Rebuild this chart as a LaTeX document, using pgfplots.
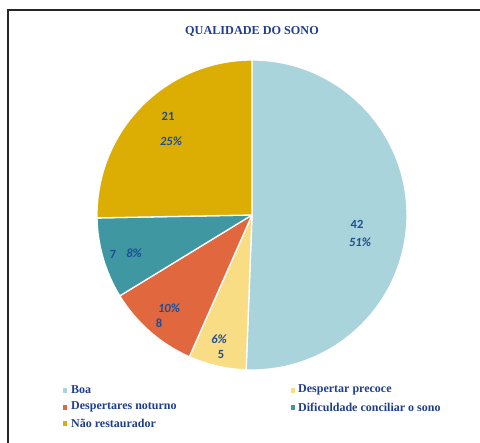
\documentclass[border=0pt]{standalone}
\usepackage{pgfplots}
\pgfplotsset{compat=1.18}
\usepackage{pgfplotstable}
\usepackage{fontspec}
\setmainfont{Liberation Serif}
\newfontfamily\calib{Carlito}
\definecolor{cBoa}{HTML}{A9D4DB}
\definecolor{cPre}{HTML}{F8DD84}
\definecolor{cNot}{HTML}{E1673F}
\definecolor{cDif}{HTML}{3F97A2}
\definecolor{cNao}{HTML}{DCAE03}
\definecolor{tblue}{HTML}{1F3E8C}
\definecolor{lblue}{HTML}{1F4D95}

\pgfplotstableread{
cat value col
Boa 42 cBoa
Precoce 5 cPre
Noturno 8 cNot
Dificuldade 7 cDif
NaoRest 21 cNao
}\sono

\begin{document}
\begin{tikzpicture}[x=1pt,y=1pt]
\useasboundingbox (0,0) rectangle (480,443);
\fill[white] (0,0) rectangle (480,443);
\begin{axis}[at={(0,0)},anchor=south west, scale only axis, width=480pt, height=443pt,
  xmin=0,xmax=480,ymin=-443,ymax=0, hide axis, clip=false]
\def\cum{0}
\pgfplotsforeachungrouped \i in {0,...,4}{%
  \pgfplotstablegetelem{\i}{value}\of\sono \let\sval\pgfplotsretval
  \pgfplotstablegetelem{\i}{col}\of\sono \let\scol\pgfplotsretval
  \pgfmathsetmacro\sa{90-\cum/83*360}%
  \pgfmathsetmacro\cum{\cum+\sval}%
  \pgfmathsetmacro\eang{90-\cum/83*360}%
  \edef\temp{\noexpand\filldraw[fill=\scol, draw=white, line width=1.3pt, line join=round] (axis cs:252,-215) -- ++(\sa:155pt) arc[start angle=\sa, end angle=\eang, radius=155pt] -- cycle;}%
  \temp
}
% title
\node[font=\bfseries\fontsize{12.2}{14}\selectfont, text=tblue] at (axis cs:252,-31) {QUALIDADE DO SONO};
% data labels
\begin{scope}[every node/.style={font=\calib\bfseries\fontsize{12.5}{14}\selectfont, text=lblue, inner sep=0pt}]
\node at (axis cs:357,-224) {42};
\node at (axis cs:360,-242) {\itshape 51\%};
\node at (axis cs:168,-116) {21};
\node at (axis cs:171,-141) {\itshape 25\%};
\node at (axis cs:113,-254) {7};
\node at (axis cs:134,-253) {\itshape 8\%};
\node at (axis cs:169,-308) {\itshape 10\%};
\node at (axis cs:159,-323) {8};
\node at (axis cs:219,-339) {\itshape 6\%};
\node at (axis cs:221,-354) {5};
\end{scope}
% legend
\begin{scope}[every node/.style={font=\bfseries\fontsize{12}{14}\selectfont, text=tblue, anchor=west, inner sep=0pt}]
\fill[cBoa] (axis cs:63,-388) rectangle (axis cs:67,-393);
\node at (axis cs:71,-390) {Boa};
\fill[cPre] (axis cs:291,-388) rectangle (axis cs:295,-393);
\node at (axis cs:298,-390) {Despertar precoce};
\fill[cNot] (axis cs:63,-405) rectangle (axis cs:67,-410);
\node at (axis cs:71,-407) {Despertares noturno};
\fill[cDif] (axis cs:291,-405) rectangle (axis cs:295,-410);
\node at (axis cs:298,-407) {Dificuldade conciliar o sono};
\fill[cNao] (axis cs:63,-421) rectangle (axis cs:67,-426);
\node at (axis cs:71,-423) {Não restaurador};
\end{scope}
\end{axis}
\draw[line width=1.5pt, black!85] (8,0) -- (8,433) -- (481,433);
\end{tikzpicture}
\end{document}
